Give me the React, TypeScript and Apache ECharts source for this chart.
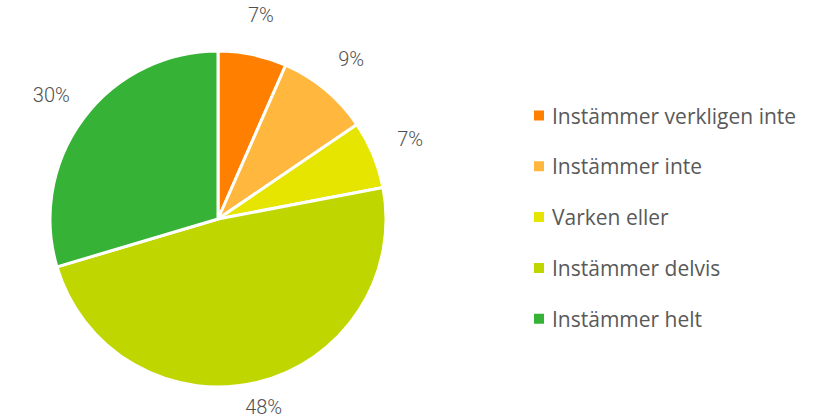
import React, { useEffect, useRef } from "react";
import * as echarts from "echarts";

const categories = [
  "Instämmer verkligen inte",
  "Instämmer inte",
  "Varken eller",
  "Instämmer delvis",
  "Instämmer helt",
];
const values = [6.6, 8.9, 6.5, 48.4, 29.6];
const colors = ["#FF7F00", "#FFB83D", "#E5E500", "#BFD600", "#36B236"];
// which labels sit on the nearer label ring (bottom label, to stay inside the frame)
const nearLabel = [false, false, false, true, false];

export default function App() {
  const ref = useRef<HTMLDivElement>(null);
  useEffect(() => {
    if (!ref.current) return;
    const chart = echarts.init(ref.current, undefined, { renderer: "svg" });
    const data = categories.map((name, i) => ({
      name,
      value: values[i],
      itemStyle: { color: colors[i] },
    }));
    const labelStyle = {
      show: true,
      position: "inside",
      fontFamily: "Roboto",
      fontSize: 20,
      fontWeight: 300,
      color: "#505050",
      formatter: (p: any) => Math.round(p.value) + "%",
    };
    const overlay = (outer: number, near: boolean) => ({
      type: "pie",
      center: [218, 219],
      radius: [0, outer],
      startAngle: 90,
      clockwise: true,
      silent: true,
      legendHoverLink: false,
      itemStyle: { color: "rgba(255,255,255,0)", borderWidth: 0 },
      label: labelStyle,
      labelLine: { show: false },
      z: 3,
      data: categories.map((name, i) => ({
        name,
        value: values[i],
        label: { show: nearLabel[i] === near },
      })),
    });
    chart.setOption({
      animation: false,
      backgroundColor: "#ffffff",
      legend: {
        orient: "vertical",
        left: 527,
        top: 100,
        itemWidth: 12,
        itemHeight: 12,
        itemGap: 29.8,
        icon: "rect",
        data: categories,
        textStyle: {
          fontFamily: "Open Sans",
          fontSize: 21,
          color: "#595959",
          lineHeight: 21,
          padding: [0, 0, 0, 2],
        },
      },
      series: [
        {
          type: "pie",
          center: [218, 219],
          radius: [0, 168],
          startAngle: 90,
          clockwise: true,
          itemStyle: { borderColor: "#ffffff", borderWidth: 3 },
          label: { show: false },
          labelLine: { show: false },
          data,
        },
        overlay(410, false),
        overlay(380, true),
      ],
    });
    return () => chart.dispose();
  }, []);
  return (
    <div
      ref={ref}
      style={{ position: "fixed", left: 0, top: 0, width: 816, height: 420 }}
    />
  );
}
